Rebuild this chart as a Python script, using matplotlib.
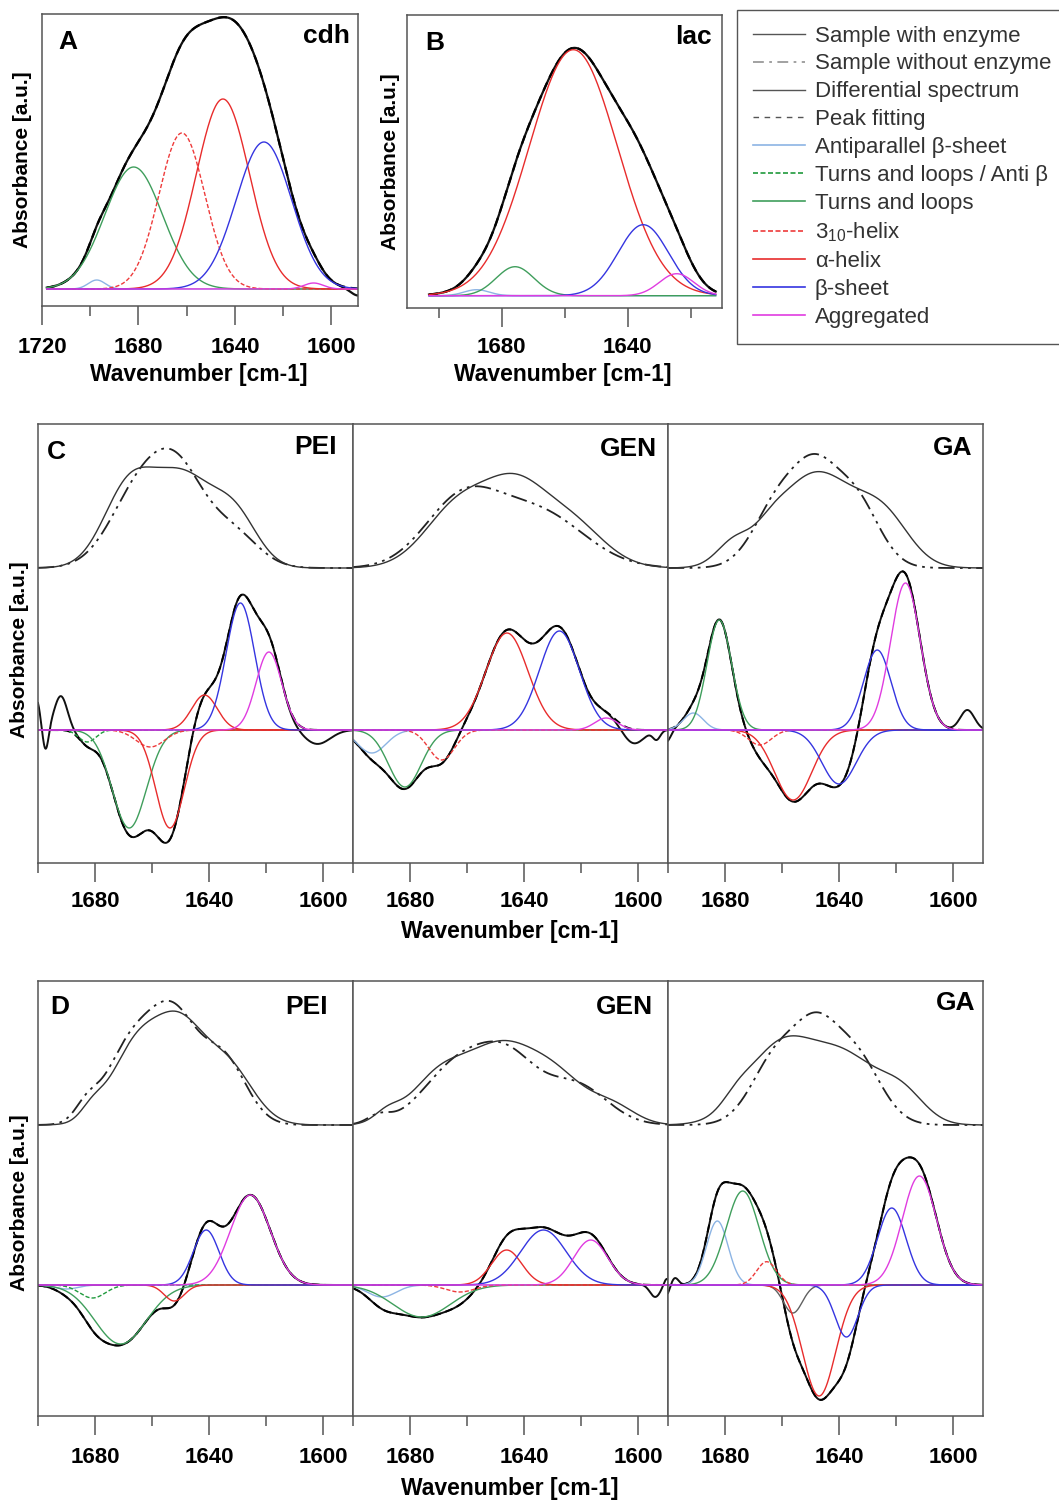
import numpy as np
import matplotlib.pyplot as plt
from matplotlib.lines import Line2D

plt.rcParams["font.family"] = ["Liberation Sans", "DejaVu Sans"]
plt.rcParams["mathtext.fontset"] = "custom"
plt.rcParams["mathtext.rm"] = "Liberation Sans"

W, H = 1059, 1503

# fitted bands: (assignment, centre cm-1, height a.u., sigma cm-1)
cdh_bands = [("anti", 1697.3, 0.09, 3.5), ("turn", 1682.0, 1.22, 12.0),
             ("h310", 1662.0, 1.56, 9.5), ("alpha", 1645.0, 1.90, 11.0),
             ("beta", 1628.0, 1.47, 11.5), ("agg", 1607.4, 0.06, 4.0)]
cdh_resid = [(1589.0, -0.07, 3.0)]

lac_bands = [("anti", 1687.9, 0.06, 4.0), ("turn", 1675.7, 0.29, 6.0),
             ("alpha", 1657.2, 2.46, 14.0), ("beta", 1635.0, 0.71, 8.0),
             ("agg", 1624.4, 0.22, 5.5)]
lac_resid = []

# C: differential spectra, PEI / GEN / GA
pei_c_bands = [("turn_anti", 1682.7, -0.12, 3.0), ("turn", 1668.0, -0.98, 6.0),
               ("h310", 1660.6, -0.17, 5.0), ("alpha", 1653.7, -0.98, 5.0),
               ("alpha", 1641.6, 0.35, 4.5), ("beta", 1629.0, 1.27, 5.0),
               ("agg", 1619.0, 0.78, 4.5)]
pei_c_resid = [(1700.5, 0.3, 1.2), (1697.3, -0.22, 1.0), (1692.0, 0.34, 2.3), (1602.0, -0.14, 4.5)]
pei_c_with = [(1668, 0.8, 9), (1649, 0.86, 10), (1631, 0.5, 8)]
pei_c_without = [(1664, 0.78, 10.5), (1650, 0.75, 9), (1632, 0.35, 9)]

gen_c_bands = [("anti", 1693.4, -0.23, 5.0), ("turn", 1681.8, -0.57, 5.7),
               ("h310", 1668.9, -0.30, 4.5), ("alpha", 1646.0, 0.97, 7.4),
               ("beta", 1627.6, 0.99, 7.0), ("agg", 1611.2, 0.12, 4.0)]
gen_c_resid = [(1601.5, -0.14, 3.5), (1593.5, -0.09, 1.3)]
gen_c_with = [(1662, 0.65, 12), (1643, 0.6, 10), (1625, 0.48, 12)]
gen_c_without = [(1662, 0.65, 13), (1635, 0.55, 16)]

ga_c_bands = [("anti", 1691.1, 0.17, 3.5), ("turn", 1682.0, 1.10, 4.3),
              ("h310", 1667.8, -0.15, 4.0), ("alpha", 1656.1, -0.70, 6.5),
              ("beta", 1640.0, -0.54, 6.0), ("beta", 1626.6, 0.80, 4.8),
              ("agg", 1616.7, 1.47, 5.2)]
ga_c_resid = [(1700.5, -0.12, 1.5), (1595.0, 0.2, 2.5)]
ga_c_with = [(1677, 0.2, 6), (1664, 0.1, 5), (1648, 0.95, 14), (1624, 0.42, 9)]
ga_c_without = [(1660, 0.72, 9), (1648, 0.62, 7), (1635, 0.72, 8.5)]

# D
pei_d_bands = [("anti", 1690.0, -0.04, 4.0), ("turn_anti", 1680.9, -0.13, 4.5),
               ("turn", 1671.0, -0.59, 9.0), ("alpha", 1652.2, -0.16, 3.5),
               ("beta", 1641.0, 0.55, 4.5), ("agg", 1625.5, 0.90, 7.0)]
pei_d_resid = []
pei_d_with = [(1681, 0.12, 4), (1665, 0.8, 9), (1650, 0.8, 8), (1634, 0.6, 9)]
pei_d_without = [(1683, 0.15, 4), (1667, 0.8, 9), (1652, 0.95, 8), (1635, 0.65, 8)]

gen_d_bands = [("anti", 1689.9, -0.12, 5.0), ("turn", 1675.9, -0.32, 10.0),
               ("h310", 1662.5, -0.07, 5.0), ("alpha", 1646.1, 0.35, 5.3),
               ("beta", 1633.2, 0.55, 8.0), ("agg", 1616.6, 0.45, 6.0)]
gen_d_resid = [(1594.0, -0.12, 1.8), (1590.0, 0.07, 1.0)]
gen_d_with = [(1688, 0.1, 4.5), (1670, 0.45, 10), (1648, 0.75, 12), (1628, 0.4, 10), (1609, 0.18, 8)]
gen_d_without = [(1691, 0.08, 4), (1663, 0.6, 12), (1645, 0.55, 10), (1622, 0.4, 11)]

ga_d_bands = [("other", 1656.2, -0.28, 3.3),
              ("anti", 1682.7, 0.64, 3.8), ("turn", 1673.8, 0.94, 5.8),
              ("h310", 1665.4, 0.233, 3.5), ("alpha", 1647.0, -1.11, 5.8),
              ("beta", 1637.4, -0.52, 4.0), ("beta", 1621.5, 0.77, 5.0),
              ("agg", 1611.8, 1.09, 6.0)]
ga_d_resid = [(1700.5, -0.1, 1.0), (1697.5, 0.07, 1.2)]
ga_d_with = [(1676, 0.1, 5), (1660, 0.8, 12), (1637, 0.6, 11), (1618, 0.3, 8)]
ga_d_without = [(1661, 0.72, 9), (1648, 0.62, 7), (1635, 0.72, 9)]

ticks_a = [1720, 1680, 1640, 1600]
ticks_b = [1680, 1640]
ticks_cd = [1680, 1640, 1600]

LEGEND_LABELS = ["Sample with enzyme", "Sample without enzyme", "Differential spectrum",
                 "Peak fitting", "Antiparallel β-sheet", "Turns and loops / Anti β",
                 "Turns and loops", "3$_{\\mathregular{10}}$-helix", "α-helix", "β-sheet",
                 "Aggregated"]

STYLE = {
    "other": dict(color="#606060", ls="-"),
    "anti": dict(color="#8cb4e4", ls="-"),
    "turn_anti": dict(color="#1f9a3c", ls=(0, (3, 1.5))),
    "turn": dict(color="#3f9e5c", ls="-"),
    "h310": dict(color="#ee3b3b", ls=(0, (3, 1.5))),
    "alpha": dict(color="#e82c2c", ls="-"),
    "beta": dict(color="#3535e0", ls="-"),
    "agg": dict(color="#e03ce0", ls="-"),
}
ORDER = ["other", "anti", "turn_anti", "turn", "h310", "alpha", "beta", "agg"]
LEGEND_KEYS = ORDER[1:]
DASHDOT = (0, (9, 3, 1.5, 3, 1.5, 3))
FIT_DASH = (0, (4, 2.5))


def gauss(x, peaks):
    y = np.zeros_like(x)
    for c, h, s in peaks:
        y += h * np.exp(-0.5 * ((x - c) / s) ** 2)
    return y


fig = plt.figure(figsize=(W / 100, H / 100), dpi=100)


def box(l, t, r, b):
    return fig.add_axes([l / W, 1 - b / H, (r - l) / W, (b - t) / H])


def ftext(px, py, s, **kw):
    fig.text(px / W, 1 - py / H, s, **kw)


def style_axis(ax, xlim, ylim, major, pad):
    ax.set_xlim(*xlim)
    ax.set_ylim(*ylim)
    ax.set_xticks(major)
    ax.set_xticklabels([str(t) for t in major], fontweight="bold", fontsize=16)
    lo, hi = min(xlim), max(xlim)
    minor = [t for t in range(1580, 1740, 20) if lo <= t <= hi and t not in major]
    ax.set_xticks(minor, minor=True)
    ax.tick_params(axis="x", which="major", direction="out", length=14, width=1.1,
                   color="#555555", pad=pad)
    ax.tick_params(axis="x", which="minor", direction="out", length=7, width=1.1,
                   color="#555555")
    ax.tick_params(axis="y", left=False, labelleft=False)
    for sp in ax.spines.values():
        sp.set_color("#555555")
        sp.set_linewidth(1.1)


def plot_fit(ax, x, bands, resid, lw_black=1.4):
    fit = gauss(x, [b[1:] for b in bands])
    ax.plot(x, fit + gauss(x, resid), color="#111111", lw=lw_black)
    ax.plot(x, fit, color="#000000", lw=lw_black, ls=FIT_DASH)
    for key in ORDER:
        for name, c, h, s in bands:
            if name == key:
                ax.plot(x, gauss(x, [(c, h, s)]), lw=1.0, **STYLE[key])


def plot_raw(ax, x, with_enz, without_enz, offset):
    ax.plot(x, offset + gauss(x, without_enz), color="#222222", lw=1.3, ls=DASHDOT)
    ax.plot(x, offset + gauss(x, with_enz), color="#333333", lw=1.0)


# ---- A: cdh
ax = box(42, 14, 358, 306)
x = np.linspace(1718, 1589, 700)
plot_fit(ax, x, cdh_bands, cdh_resid, lw_black=1.6)
style_axis(ax, (1720, 1589), (-0.17, 2.75), ticks_a, 8)
ftext(58, 42, "A", fontsize=19, fontweight="bold", va="center")
ftext(350, 36, "cdh", fontsize=19, fontweight="bold", va="center", ha="right")
ftext(199, 374, "Wavenumber [cm-1]", fontsize=16.5, fontweight="bold", ha="center", va="center")
ftext(23, 160, "Absorbance [a.u.]", fontsize=15, fontweight="bold", rotation=90,
      ha="center", va="center")

# ---- B: lac
ax = box(407, 15, 722, 308)
x = np.linspace(1703, 1612, 600)
plot_fit(ax, x, lac_bands, lac_resid, lw_black=1.6)
style_axis(ax, (1710, 1610), (-0.123, 2.807), ticks_b, 7)
ftext(425, 43, "B", fontsize=19, fontweight="bold", va="center")
ftext(712, 37, "lac", fontsize=19, fontweight="bold", va="center", ha="right")
ftext(563, 375, "Wavenumber [cm-1]", fontsize=16.5, fontweight="bold", ha="center", va="center")
ftext(390, 162, "Absorbance [a.u.]", fontsize=15, fontweight="bold", rotation=90,
      ha="center", va="center")

# ---- C and D: three carriers each
rows = [
    dict(top=424, bottom=863, ylim=(-1.33, 3.06), offset=1.62, pad=6.5, letter="C",
         letter_xy=(47, 452), xlabel_y=932, ylabel_y=650,
         panels=[(pei_c_bands, pei_c_resid, pei_c_with, pei_c_without, "PEI", 337, 447),
                 (gen_c_bands, gen_c_resid, gen_c_with, gen_c_without, "GEN", 657, 449),
                 (ga_c_bands, ga_c_resid, ga_c_with, ga_c_without, "GA", 972, 448)]),
    dict(top=981, bottom=1416, ylim=(-1.31, 3.04), offset=1.60, pad=8, letter="D",
         letter_xy=(50, 1007), xlabel_y=1488, ylabel_y=1203,
         panels=[(pei_d_bands, pei_d_resid, pei_d_with, pei_d_without, "PEI", 328, 1007),
                 (gen_d_bands, gen_d_resid, gen_d_with, gen_d_without, "GEN", 653, 1007),
                 (ga_d_bands, ga_d_resid, ga_d_with, ga_d_without, "GA", 975, 1003)]),
]
edges = [38, 353, 668, 983]
for row in rows:
    for i, (bands, resid, w_enz, wo_enz, name, nx, ny) in enumerate(row["panels"]):
        ax = box(edges[i], row["top"], edges[i + 1], row["bottom"])
        x = np.linspace(1700, 1589.5, 700)
        plot_raw(ax, x, w_enz, wo_enz, row["offset"])
        plot_fit(ax, x, bands, resid)
        style_axis(ax, (1700, 1589.5), row["ylim"], ticks_cd, row["pad"])
        ftext(nx, ny, name, fontsize=19, fontweight="bold", va="center", ha="right")
    lx, ly = row["letter_xy"]
    ftext(lx, ly, row["letter"], fontsize=19, fontweight="bold", va="center")
    ftext(510, row["xlabel_y"], "Wavenumber [cm-1]", fontsize=16.5, fontweight="bold",
          ha="center", va="center")
    ftext(20, row["ylabel_y"], "Absorbance [a.u.]", fontsize=15, fontweight="bold",
          rotation=90, ha="center", va="center")

# ---- legend
handles = [
    Line2D([], [], color="#555555", lw=1.0),
    Line2D([], [], color="#9a9a9a", lw=1.3, ls=(0, (6, 3, 1.5, 3))),
    Line2D([], [], color="#555555", lw=1.0),
    Line2D([], [], color="#555555", lw=1.0, ls=(0, (4, 4))),
] + [Line2D([], [], lw=1.2, **STYLE[k]) for k in LEGEND_KEYS]
leg = fig.legend(handles, LEGEND_LABELS, loc="upper left",
                 bbox_to_anchor=(737 / W, 1 - 10 / H), borderaxespad=0,
                 fancybox=False, edgecolor="#555555", framealpha=1,
                 prop=dict(size=16, weight="normal"), handlelength=2.35,
                 handletextpad=0.45, labelspacing=0.31, borderpad=0.7)
leg.get_frame().set_linewidth(1.0)
for t in leg.get_texts():
    t.set_color("#333333")

fig.savefig("out.png", dpi=100)
